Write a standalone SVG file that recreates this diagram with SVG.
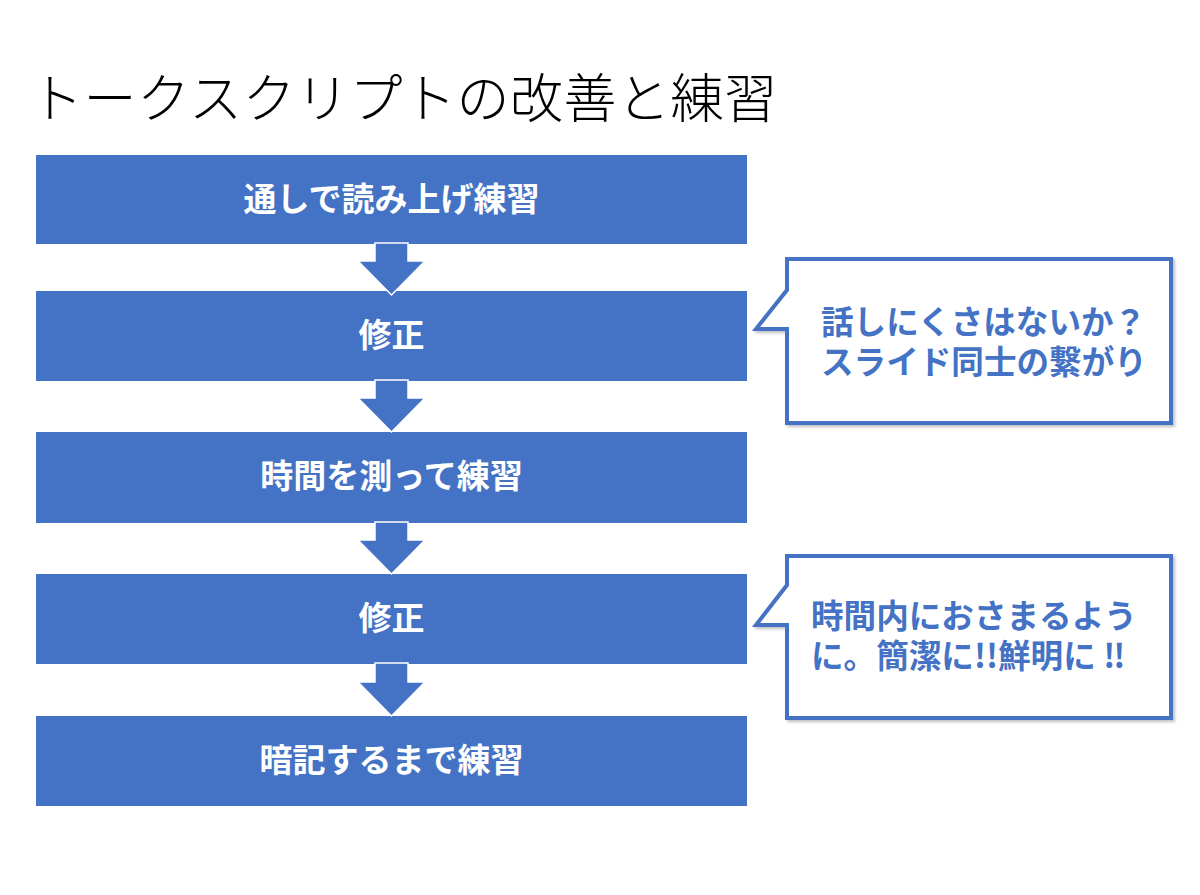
<svg xmlns="http://www.w3.org/2000/svg" width="1200" height="895" viewBox="0 0 1200 895">
  <defs>
    <style>
      .box { fill: #4472C4; }
      .boxtxt { fill: #FFFFFF; font-family: "Noto Sans CJK JP", "Noto Sans", sans-serif; font-weight: 700; font-size: 33px; text-anchor: middle; }
      .arrow { fill: #4472C4; stroke: #FFFFFF; stroke-width: 1.5; stroke-linejoin: miter; }
      .callout { fill: #FFFFFF; stroke: #4472C4; stroke-width: 4; stroke-linejoin: miter; }
      .calltxt { fill: #4472C4; font-family: "Noto Sans CJK JP", "Noto Sans", sans-serif; font-weight: 700; font-size: 32.6px; }
      .title { fill: #000000; font-family: "Noto Sans CJK JP", "Noto Sans", sans-serif; font-weight: 300; font-size: 53px; letter-spacing: 0.5px; }
    </style>
    <filter id="shadow" x="-5%" y="-5%" width="115%" height="120%">
      <feDropShadow dx="2" dy="2" stdDeviation="1.5" flood-color="#000000" flood-opacity="0.25"/>
    </filter>
  </defs>
  <rect width="1200" height="895" fill="#FFFFFF"/>

  <g id="title">
    <text class="title" x="30" y="118">トークスクリプトの改善と練習</text>
  </g>

  <g id="step1">
    <rect class="box" x="36" y="155" width="711" height="89"/>
    <text class="boxtxt" x="391.5" y="211">通しで読み上げ練習</text>
  </g>
  <g id="step2">
    <rect class="box" x="36" y="291" width="711" height="90"/>
    <text class="boxtxt" x="391.5" y="347">修正</text>
  </g>
  <g id="step3">
    <rect class="box" x="36" y="432" width="711" height="91"/>
    <text class="boxtxt" x="391.5" y="488">時間を測って練習</text>
  </g>
  <g id="step4">
    <rect class="box" x="36" y="574" width="711" height="90"/>
    <text class="boxtxt" x="391.5" y="630">修正</text>
  </g>
  <g id="step5">
    <rect class="box" x="36" y="716" width="711" height="90"/>
    <text class="boxtxt" x="391.5" y="772">暗記するまで練習</text>
  </g>

  <g id="connectors">
    <polygon class="arrow" points="375,243 408,243 408,261 425,261 391.5,295 358,261 375,261"/>
    <polygon class="arrow" points="375,380 408,380 408,398 425,398 391.5,432 358,398 375,398"/>
    <polygon class="arrow" points="375,522 408,522 408,540 425,540 391.5,574 358,540 375,540"/>
    <polygon class="arrow" points="375,663 408,663 408,682 425,682 391.5,716 358,682 375,682"/>
  </g>

  <g id="callout1">
    <path class="callout" filter="url(#shadow)" d="M787,259 L1171,259 L1171,423 L787,423 L787,329 L756,329 L787,290 Z"/>
    <text class="calltxt"><tspan x="821" y="334">話しにくさはないか？</tspan><tspan x="821" y="374">スライド同士の繋がり</tspan></text>
  </g>

  <g id="callout2">
    <path class="callout" filter="url(#shadow)" d="M787,556 L1171,556 L1171,718 L787,718 L787,625 L756,625 L787,585 Z"/>
    <text class="calltxt"><tspan x="811" y="628">時間内におさまるよう</tspan><tspan x="811" y="668">に。簡潔に!!鮮明に ‼</tspan></text>
  </g>
</svg>
